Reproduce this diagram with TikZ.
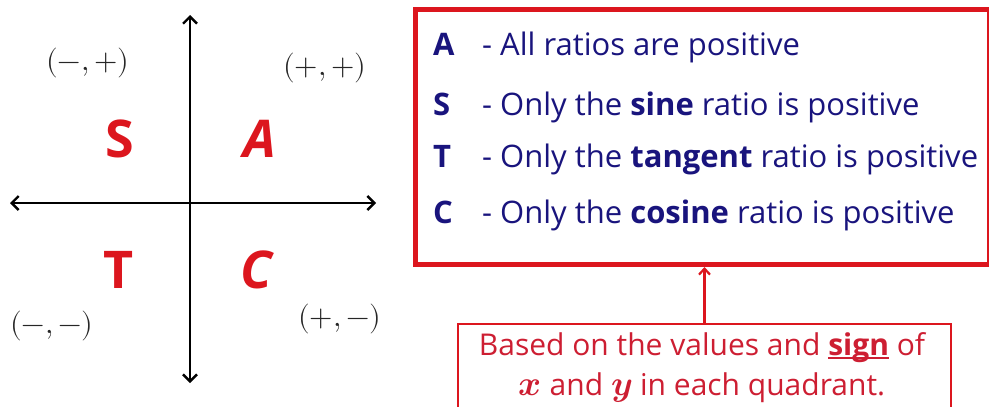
\documentclass[tikz,border=0pt]{standalone}
\usepackage{unicode-math}
\setmainfont{Open Sans}
\setmathfont{Latin Modern Math}
\usetikzlibrary{arrows.meta}
\definecolor{boxred}{RGB}{220,22,30}
\definecolor{txtred}{RGB}{205,30,50}
\definecolor{navy}{RGB}{25,20,125}
\newcommand\myul[1]{\setbox0\hbox{#1}\rlap{\rule[-3.5pt]{\wd0}{1.6pt}}\box0\relax}
\newcommand\bigmath[1]{{\fontsize{35}{35}\selectfont$\symbfit{#1}$}}
\tikzset{
  axis/.style={line width=2.4pt, {Straight Barb[length=7pt,width=14pt]}-{Straight Barb[length=7pt,width=14pt]}},
  sign/.style={font=\fontsize{30}{32}\selectfont, text=black!85},
  quad/.style={font=\fontsize{52}{56}\selectfont\bfseries, text=boxred, anchor=base},
  lett/.style={font=\fontsize{31}{33}\selectfont\bfseries, text=navy, anchor=base west, inner sep=0pt},
  line/.style={font=\fontsize{31}{33}\selectfont, text=navy, anchor=base west, inner sep=0pt},
  note/.style={font=\fontsize{30}{32}\selectfont, text=txtred, anchor=base},
  bigbox/.style={draw=boxred, line width=5pt, minimum width=574pt, minimum height=255pt, anchor=north west, inner sep=0pt},
  smallbox/.style={draw=boxred, line width=2pt, minimum width=493pt, minimum height=110pt, anchor=north west, inner sep=0pt},
  conn/.style={draw=boxred, line width=2.2pt, -{Straight Barb[length=6pt,width=11pt]}},
}
\begin{document}
\begin{tikzpicture}[x=1pt,y=-1pt]
\useasboundingbox (0,0) rectangle (989,407);
\clip (0,0) rectangle (989,407);
% axes
\coordinate (xl) at (10,203);
\coordinate (xr) at (376,203);
\coordinate (yt) at (190,15);
\coordinate (yb) at (190,383);
\draw[axis] (xl) -- (xr);
\draw[axis] (yt) -- (yb);
% sign labels
\node[sign] (s1) at (88,63) {$(-,+)$};
\node[sign] (s2) at (325,68) {$(+,+)$};
\node[sign] (s3) at (52,326) {$(-,-)$};
\node[sign] (s4) at (340,319) {$(+,-)$};
% quadrant letters
\node[quad] (qS) at (119.5,157) {S};
\node[quad] (qA) at (259.5,157) {\itshape A};
\node[quad] (qT) at (118.5,288) {T};
\node[quad] (qC) at (256,288) {\itshape C};
% big box
\node[bigbox] (big) at (413,7) {};
\node[lett] (lA) at (433,55) {A};
\node[line] (tA) at (482,55) {- All ratios are positive};
\node[lett] (lS) at (433,115) {S};
\node[line] (tS) at (482,115) {- Only the \textbf{sine} ratio is positive};
\node[lett] (lT) at (433,167) {T};
\node[line] (tT) at (482,167) {- Only the \textbf{tangent} ratio is positive};
\node[lett] (lC) at (433,223) {C};
\node[line] (tC) at (482,223) {- Only the \textbf{cosine} ratio is positive};
% small box
\node[smallbox] (small) at (457,323) {};
\node[note] (note1) at (702,355) {Based on the values and \myul{\textbf{sign}} of};
\node[note] (note2) at (702,395) {\bigmath{x} and \bigmath{y} in each quadrant.};
\draw[conn] (small.north) -- (small.north |- big.south);
\end{tikzpicture}
\end{document}
